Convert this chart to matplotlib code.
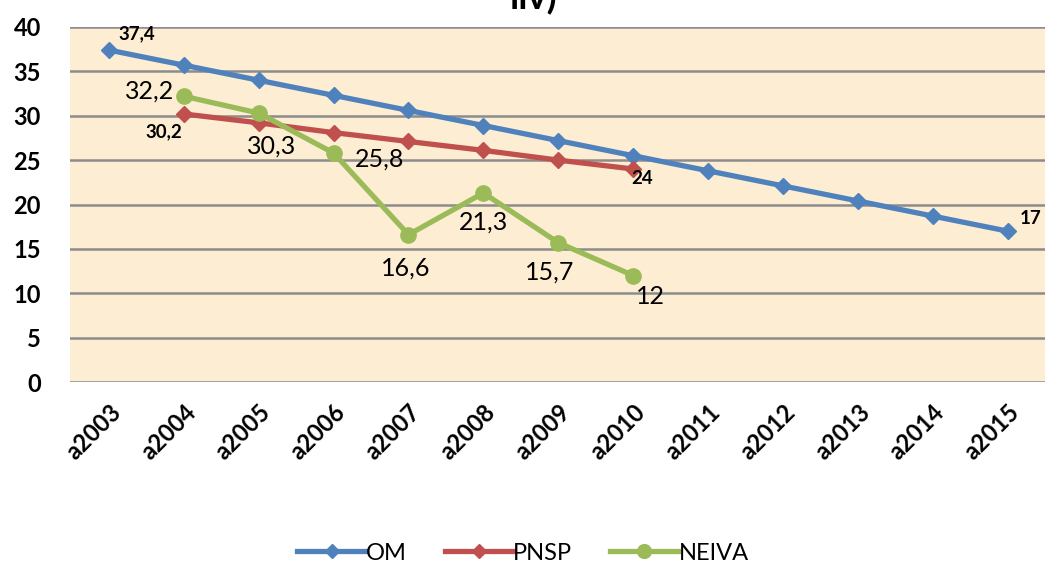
import matplotlib
matplotlib.use("Agg")
import matplotlib.pyplot as plt
import numpy as np

plt.rcParams["font.family"] = ["Lato", "DejaVu Sans"]

YEARS = ["a2003", "a2004", "a2005", "a2006", "a2007", "a2008", "a2009",
         "a2010", "a2011", "a2012", "a2013", "a2014", "a2015"]
OM = [37.4, 35.7, 34.0, 32.3, 30.6, 28.9, 27.2, 25.5, 23.8, 22.1, 20.4, 18.7, 17.0]
PNSP = [30.2, 29.2, 28.1, 27.1, 26.1, 25.0, 24.0]          # a2004 .. a2010
NEIVA = [32.2, 30.3, 25.8, 16.6, 21.3, 15.7, 12.0]         # a2004 .. a2010

OM_LABELS = {0: "37,4", 12: "17"}
PNSP_LABELS = {0: "30,2", 6: "24"}
NEIVA_LABELS = ["32,2", "30,3", "25,8", "16,6", "21,3", "15,7", "12"]

BLUE = "#4F81BD"
RED = "#C0504D"
GREEN = "#9BBB59"

fig = plt.figure(figsize=(10.46, 5.69), dpi=100)
ax = fig.add_axes([70 / 1046, 1 - 382 / 569, 975 / 1046, 355 / 569])
ax.set_facecolor("#FDEED3")

x = np.arange(len(YEARS))
x_sub = x[1:8]

ax.plot(x, OM, color=BLUE, lw=3.8, marker="D", ms=8, label="OM", zorder=3)
ax.plot(x_sub, PNSP, color=RED, lw=3.8, marker="D", ms=8, label="PNSP", zorder=3)
ax.plot(x_sub, NEIVA, color=GREEN, lw=3.8, marker="o", ms=11, label="NEIVA", zorder=4)

bold_lab = dict(fontsize=13.5, fontweight="bold", textcoords="offset points")
ax.annotate(OM_LABELS[0], (x[0], OM[0]), xytext=(7, 12), ha="left", va="center", **bold_lab)
ax.annotate(OM_LABELS[12], (x[12], OM[12]), xytext=(9, 9), ha="left", va="center", **bold_lab)
ax.annotate(PNSP_LABELS[0], (x_sub[0], PNSP[0]), xytext=(-1, -13), ha="right", va="center", **bold_lab)
ax.annotate(PNSP_LABELS[6], (x_sub[6], PNSP[6]), xytext=(-1, -7), ha="left", va="center", **bold_lab)

neiva_offsets = [(-7, 4, "right"), (9, -24, "center"), (15, -4, "left"),
                 (-2, -24, "center"), (0, -21, "center"), (-6, -21, "center"),
                 (2, -15, "left")]
for xi, yi, txt, (dx, dy, ha) in zip(x_sub, NEIVA, NEIVA_LABELS, neiva_offsets):
    ax.annotate(txt, (xi, yi), xytext=(dx, dy), textcoords="offset points",
                ha=ha, va="center", fontsize=18)

ax.set_xlim(-0.52, 12.5)
ax.set_ylim(0, 40)
ax.set_yticks(range(0, 41, 5))
ax.set_xticks(x)
ax.set_xticklabels(YEARS, rotation=45, ha="right", rotation_mode="anchor",
                   fontsize=17, fontweight="bold")
for lab in ax.get_yticklabels():
    lab.set_fontweight("bold")
    lab.set_fontsize(17)
ax.tick_params(axis="y", length=0, pad=21)
ax.tick_params(axis="x", length=0, pad=13)
ax.grid(axis="y", color="#8C8C8C", lw=1.8)
ax.set_axisbelow(True)
for side in ["top", "right", "left", "bottom"]:
    ax.spines[side].set_visible(False)

# title is cut off at the top edge in the source image
fig.text(0.51, 1 - 9 / 569, "iiv)", ha="center", va="baseline",
         fontsize=26, fontweight="bold")

fig.legend(loc="center", bbox_to_anchor=(0.5, 1 - 553 / 569), ncol=3,
           frameon=False, fontsize=17, handlelength=2.9, columnspacing=1.6,
           handletextpad=0.0, markerscale=0.9)

fig.savefig("out.png", dpi=100)
